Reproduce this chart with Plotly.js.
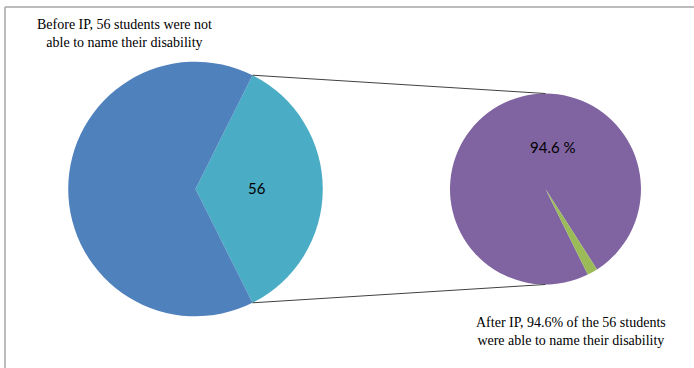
<!DOCTYPE html>
<html>
<head>
<meta charset="utf-8">
<script src="https://cdn.plot.ly/plotly-3.0.1.min.js"></script>
<style>html,body{margin:0;padding:0;background:#fff;}#chart{width:694px;height:368px;}</style>
</head>
<body>
<div id="chart"></div>
<script>
// ---- data ----
var beforeLabels = ['Not able to name disability', 'Able to name disability'];
var beforeValues = [56, 103];
var afterLabels = ['Able to name disability', 'Not able to name disability'];
var afterValues = [94.6, 1.7];
var beforeNote = 'Before IP, 56 students were not<br>able to name their disability';
var afterNote = 'After IP, 94.6% of the 56 students<br>were able to name their disability';

// ---- layout geometry ----
var W = 694, H = 368;
var leftDom = {x: [0.0983, 0.4651], y: [0.1405, 0.8323]};
var rightDom = {x: [0.6484, 0.9236], y: [0.2269, 0.7459]};

var beforeTotal = beforeValues.reduce(function(a, b){ return a + b; }, 0);
var tealSpan = 360 * beforeValues[0] / beforeTotal;
var leftRotation = 90 - tealSpan / 2;
var rightRotation = 153.7;

function pieGeom(dom) {
  var w = W * (dom.x[1] - dom.x[0]), h = H * (dom.y[1] - dom.y[0]);
  return {cx: W * (dom.x[0] + dom.x[1]) / 2, cy: H * (1 - (dom.y[0] + dom.y[1]) / 2), r: Math.min(w, h) / 2};
}
var LG = pieGeom(leftDom), RG = pieGeom(rightDom);
function pt(g, deg) {
  var a = deg * Math.PI / 180;
  return {x: (g.cx + g.r * Math.sin(a)) / W, y: 1 - (g.cy - g.r * Math.cos(a)) / H};
}
var p1 = pt(LG, leftRotation), p2 = pt(LG, leftRotation + tealSpan);
var q1 = pt(RG, 0), q2 = pt(RG, 180);

var traces = [
  {
    type: 'pie', labels: beforeLabels, values: beforeValues, sort: false,
    direction: 'clockwise', rotation: leftRotation, domain: leftDom,
    marker: {colors: ['#4BACC6', '#4F81BD'], line: {width: 0}},
    textinfo: 'none', hoverinfo: 'label+value', showlegend: false
  },
  {
    type: 'pie', labels: afterLabels, values: afterValues, sort: false,
    direction: 'counterclockwise', rotation: rightRotation, domain: rightDom,
    marker: {colors: ['#8064A2', '#9BBB59'], line: {width: 0}},
    textinfo: 'none', hoverinfo: 'label+value', showlegend: false
  }
];

var layout = {
  width: W, height: H,
  margin: {l: 0, r: 0, t: 0, b: 0},
  paper_bgcolor: '#ffffff',
  showlegend: false,
  font: {family: 'Lato, "Liberation Sans", sans-serif', color: '#000'},
  shapes: [
    {type: 'line', xref: 'paper', yref: 'paper', x0: p1.x, y0: p1.y, x1: q1.x, y1: q1.y, line: {color: '#404040', width: 1}},
    {type: 'line', xref: 'paper', yref: 'paper', x0: p2.x, y0: p2.y, x1: q2.x, y1: q2.y, line: {color: '#404040', width: 1}},
    {type: 'line', xref: 'paper', yref: 'paper', x0: 5 / W, y0: 1 - 7 / H, x1: 1, y1: 1 - 7 / H, line: {color: '#a6a6a6', width: 1.5}},
    {type: 'line', xref: 'paper', yref: 'paper', x0: 5 / W, y0: 1 - 7 / H, x1: 5 / W, y1: 0, line: {color: '#a6a6a6', width: 1.5}}
  ],
  annotations: [
    {xref: 'paper', yref: 'paper', x: 124 / W, y: 1 - 34 / H, text: beforeNote, showarrow: false, align: 'center',
     xanchor: 'center', yanchor: 'middle', font: {family: '"Liberation Serif", "Times New Roman", serif', size: 14, color: '#000'}},
    {xref: 'paper', yref: 'paper', x: 571 / W, y: 1 - 331 / H, text: afterNote, showarrow: false, align: 'center',
     xanchor: 'center', yanchor: 'middle', font: {family: '"Liberation Serif", "Times New Roman", serif', size: 14, color: '#000'}},
    {xref: 'paper', yref: 'paper', x: 257 / W, y: 1 - 188 / H, text: String(beforeValues[0]), showarrow: false,
     xanchor: 'center', yanchor: 'middle', font: {family: 'Lato, sans-serif', size: 15, color: '#000'}},
    {xref: 'paper', yref: 'paper', x: 553 / W, y: 1 - 147 / H, text: afterValues[0].toFixed(1) + ' %', showarrow: false,
     xanchor: 'center', yanchor: 'middle', font: {family: 'Lato, sans-serif', size: 15, color: '#000'}}
  ]
};

Plotly.newPlot('chart', traces, layout, {displayModeBar: false, staticPlot: true});
</script>
</body>
</html>
